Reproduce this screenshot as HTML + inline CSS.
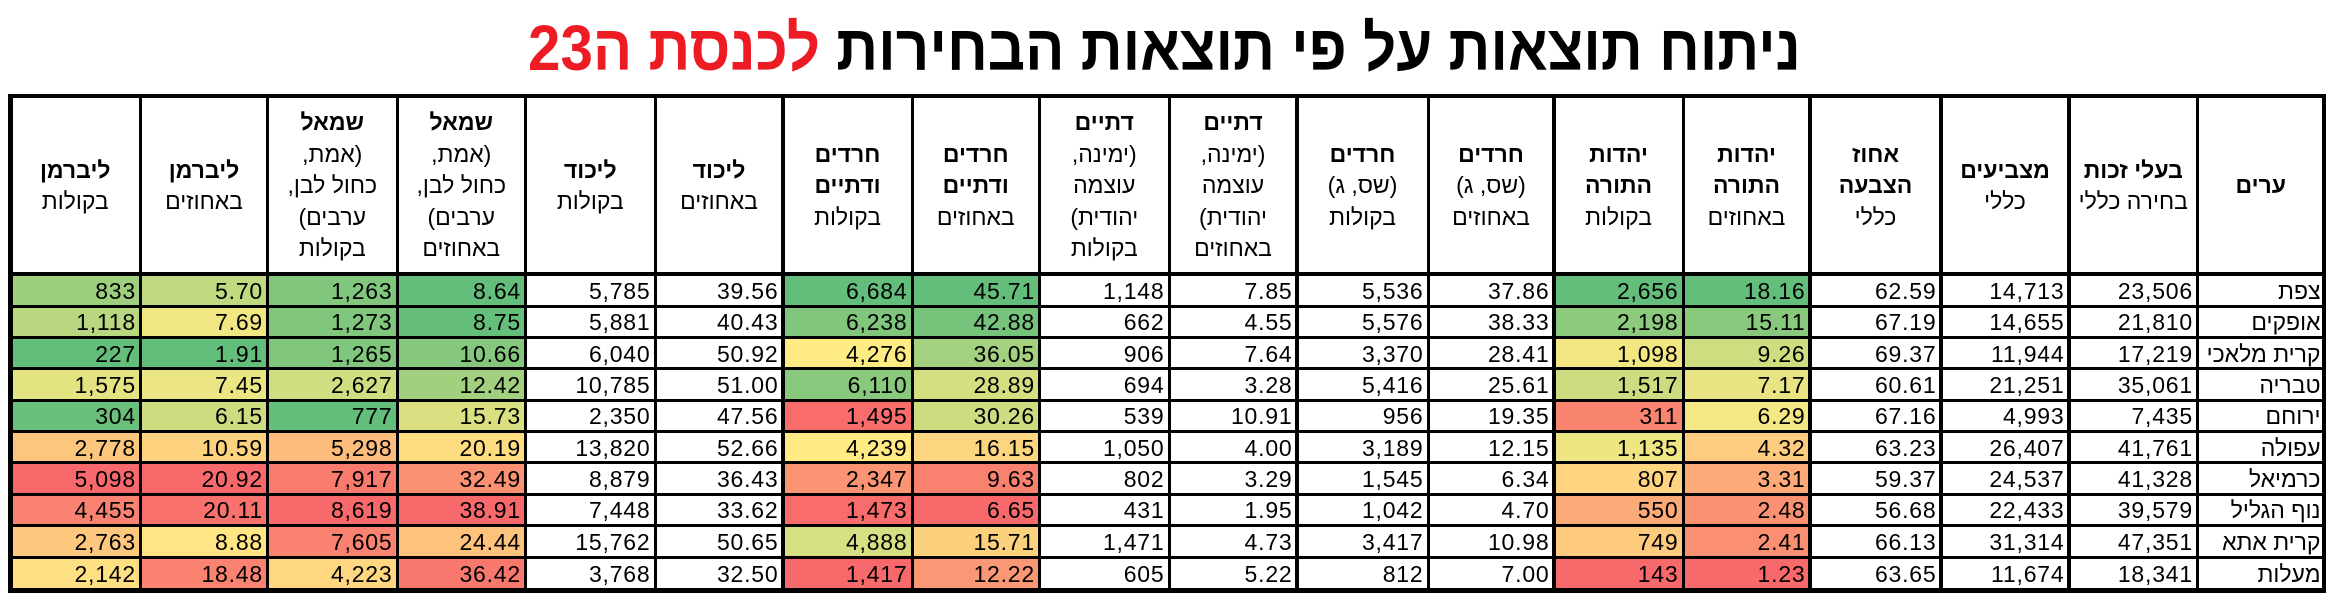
<!DOCTYPE html>
<html><head><meta charset="utf-8">
<style>
html,body{margin:0;padding:0;background:#fff;}
body{width:2334px;height:603px;position:relative;overflow:hidden;font-family:"Liberation Sans","Noto Sans CJK SC",sans-serif;color:#000;}
#title{position:absolute;right:533px;top:16px;font-size:64px;line-height:64px;font-weight:bold;white-space:nowrap;direction:rtl;transform-origin:100% 50%;transform:scaleX(0.92);}
.red{color:#ed1c24;}
#grid{position:absolute;left:10px;top:96px;display:grid;direction:ltr;
grid-template-columns:130.5px 127px 129.5px 128.5px 129.5px 128px 129px 127.5px 129.5px 128px 131px 126px 129px 127px 131px 128px 128.5px 126.5px;
grid-template-rows:178px 32px repeat(8,31.375px) 33px;}
.h{display:flex;align-items:center;justify-content:center;text-align:center;direction:rtl;font-size:23px;line-height:31.5px;padding-top:2px;box-sizing:border-box;white-space:nowrap;}
.h b{font-weight:bold;}
.d{display:flex;align-items:center;justify-content:flex-end;font-size:23px;letter-spacing:0.8px;padding:2px 4.5px 0 0;box-sizing:border-box;white-space:nowrap;}
.c{direction:rtl;letter-spacing:0;padding-right:3.5px;justify-content:flex-start;}
.v{position:absolute;top:94px;height:498.5px;background:#000;}
.hl{position:absolute;left:8px;width:2318px;background:#000;}
</style></head>
<body>
<div id="title">ניתוח תוצאות על פי תוצאות הבחירות <span class="red">לכנסת ה23</span></div>

<div id="grid">
<div class="h"><div><b>ליברמן</b><br>בקולות</div></div>
<div class="h"><div><b>ליברמן</b><br>באחוזים</div></div>
<div class="h"><div><b>שמאל</b><br>(אמת,<br>כחול לבן,<br>ערבים)<br>בקולות</div></div>
<div class="h"><div><b>שמאל</b><br>(אמת,<br>כחול לבן,<br>ערבים)<br>באחוזים</div></div>
<div class="h"><div><b>ליכוד</b><br>בקולות</div></div>
<div class="h"><div><b>ליכוד</b><br>באחוזים</div></div>
<div class="h"><div><b>חרדים<br>ודתיים</b><br>בקולות</div></div>
<div class="h"><div><b>חרדים<br>ודתיים</b><br>באחוזים</div></div>
<div class="h"><div><b>דתיים</b><br>(ימינה,<br>עוצמה<br>יהודית)<br>בקולות</div></div>
<div class="h"><div><b>דתיים</b><br>(ימינה,<br>עוצמה<br>יהודית)<br>באחוזים</div></div>
<div class="h"><div><b>חרדים</b><br>(שס, ג)<br>בקולות</div></div>
<div class="h"><div><b>חרדים</b><br>(שס, ג)<br>באחוזים</div></div>
<div class="h"><div><b>יהדות<br>התורה</b><br>בקולות</div></div>
<div class="h"><div><b>יהדות<br>התורה</b><br>באחוזים</div></div>
<div class="h"><div><b>אחוז<br>הצבעה</b><br>כללי</div></div>
<div class="h"><div><b>מצביעים</b><br>כללי</div></div>
<div class="h"><div><b>בעלי זכות</b><br>בחירה כללי</div></div>
<div class="h"><div><b>ערים</b></div></div>

<!-- צפת -->
<div class="d" style="background:#9DCF7E">833</div>
<div class="d" style="background:#C0D980">5.70</div>
<div class="d" style="background:#80C67D">1,263</div>
<div class="d" style="background:#63BE7B">8.64</div>
<div class="d">5,785</div>
<div class="d">39.56</div>
<div class="d" style="background:#63BE7B">6,684</div>
<div class="d" style="background:#63BE7B">45.71</div>
<div class="d">1,148</div>
<div class="d">7.85</div>
<div class="d">5,536</div>
<div class="d">37.86</div>
<div class="d" style="background:#63BE7B">2,656</div>
<div class="d" style="background:#63BE7B">18.16</div>
<div class="d">62.59</div>
<div class="d">14,713</div>
<div class="d">23,506</div>
<div class="d c">צפת</div>

<!-- אופקים -->
<div class="d" style="background:#B8D780">1,118</div>
<div class="d" style="background:#F0E783">7.69</div>
<div class="d" style="background:#80C67D">1,273</div>
<div class="d" style="background:#65BF7B">8.75</div>
<div class="d">5,881</div>
<div class="d">40.43</div>
<div class="d" style="background:#80C67D">6,238</div>
<div class="d" style="background:#76C47C">42.88</div>
<div class="d">662</div>
<div class="d">4.55</div>
<div class="d">5,576</div>
<div class="d">38.33</div>
<div class="d" style="background:#8DCA7D">2,198</div>
<div class="d" style="background:#88C97D">15.11</div>
<div class="d">67.19</div>
<div class="d">14,655</div>
<div class="d">21,810</div>
<div class="d c">אופקים</div>

<!-- קרית מלאכי -->
<div class="d" style="background:#63BE7B">227</div>
<div class="d" style="background:#63BE7B">1.91</div>
<div class="d" style="background:#80C67D">1,265</div>
<div class="d" style="background:#85C87D">10.66</div>
<div class="d">6,040</div>
<div class="d">50.92</div>
<div class="d" style="background:#FEEB84">4,276</div>
<div class="d" style="background:#A4D17F">36.05</div>
<div class="d">906</div>
<div class="d">7.64</div>
<div class="d">3,370</div>
<div class="d">28.41</div>
<div class="d" style="background:#F2E783">1,098</div>
<div class="d" style="background:#CFDD81">9.26</div>
<div class="d">69.37</div>
<div class="d">11,944</div>
<div class="d">17,219</div>
<div class="d c">קרית מלאכי</div>

<!-- טבריה -->
<div class="d" style="background:#E4E382">1,575</div>
<div class="d" style="background:#EBE583">7.45</div>
<div class="d" style="background:#D0DD81">2,627</div>
<div class="d" style="background:#A2D07F">12.42</div>
<div class="d">10,785</div>
<div class="d">51.00</div>
<div class="d" style="background:#88C97D">6,110</div>
<div class="d" style="background:#D4DF82">28.89</div>
<div class="d">694</div>
<div class="d">3.28</div>
<div class="d">5,416</div>
<div class="d">25.61</div>
<div class="d" style="background:#CBDC81">1,517</div>
<div class="d" style="background:#E8E483">7.17</div>
<div class="d">60.61</div>
<div class="d">21,251</div>
<div class="d">35,061</div>
<div class="d c">טבריה</div>

<!-- ירוחם -->
<div class="d" style="background:#6AC07B">304</div>
<div class="d" style="background:#CBDC81">6.15</div>
<div class="d" style="background:#63BE7B">777</div>
<div class="d" style="background:#DAE082">15.73</div>
<div class="d">2,350</div>
<div class="d">47.56</div>
<div class="d" style="background:#F86D6C">1,495</div>
<div class="d" style="background:#CBDC81">30.26</div>
<div class="d">539</div>
<div class="d">10.91</div>
<div class="d">956</div>
<div class="d">19.35</div>
<div class="d" style="background:#F98470">311</div>
<div class="d" style="background:#F3E883">6.29</div>
<div class="d">67.16</div>
<div class="d">4,993</div>
<div class="d">7,435</div>
<div class="d c">ירוחם</div>

<!-- עפולה -->
<div class="d" style="background:#FDC67D">2,778</div>
<div class="d" style="background:#FED37F">10.59</div>
<div class="d" style="background:#FCBC7B">5,298</div>
<div class="d" style="background:#FEDD81">20.19</div>
<div class="d">13,820</div>
<div class="d">52.66</div>
<div class="d" style="background:#FFEA84">4,239</div>
<div class="d" style="background:#FCD57F">16.15</div>
<div class="d">1,050</div>
<div class="d">4.00</div>
<div class="d">3,189</div>
<div class="d">12.15</div>
<div class="d" style="background:#EEE683">1,135</div>
<div class="d" style="background:#FDCC7E">4.32</div>
<div class="d">63.23</div>
<div class="d">26,407</div>
<div class="d">41,761</div>
<div class="d c">עפולה</div>

<!-- כרמיאל -->
<div class="d" style="background:#F8696B">5,098</div>
<div class="d" style="background:#F8696B">20.92</div>
<div class="d" style="background:#F97B6E">7,917</div>
<div class="d" style="background:#FA9173">32.49</div>
<div class="d">8,879</div>
<div class="d">36.43</div>
<div class="d" style="background:#FA9473">2,347</div>
<div class="d" style="background:#F98170">9.63</div>
<div class="d">802</div>
<div class="d">3.29</div>
<div class="d">1,545</div>
<div class="d">6.34</div>
<div class="d" style="background:#FED480">807</div>
<div class="d" style="background:#FCAB78">3.31</div>
<div class="d">59.37</div>
<div class="d">24,537</div>
<div class="d">41,328</div>
<div class="d c">כרמיאל</div>

<!-- נוף הגליל -->
<div class="d" style="background:#F98370">4,455</div>
<div class="d" style="background:#F8716D">20.11</div>
<div class="d" style="background:#F8696B">8,619</div>
<div class="d" style="background:#F8696B">38.91</div>
<div class="d">7,448</div>
<div class="d">33.62</div>
<div class="d" style="background:#F86C6B">1,473</div>
<div class="d" style="background:#F8696B">6.65</div>
<div class="d">431</div>
<div class="d">1.95</div>
<div class="d">1,042</div>
<div class="d">4.70</div>
<div class="d" style="background:#FCAA78">550</div>
<div class="d" style="background:#FA9173">2.48</div>
<div class="d">56.68</div>
<div class="d">22,433</div>
<div class="d">39,579</div>
<div class="d c">נוף הגליל</div>

<!-- קרית אתא -->
<div class="d" style="background:#FDC77D">2,763</div>
<div class="d" style="background:#FFE583">8.88</div>
<div class="d" style="background:#F98270">7,605</div>
<div class="d" style="background:#FDC37C">24.44</div>
<div class="d">15,762</div>
<div class="d">50.65</div>
<div class="d" style="background:#D6DF82">4,888</div>
<div class="d" style="background:#FCD17E">15.71</div>
<div class="d">1,471</div>
<div class="d">4.73</div>
<div class="d">3,417</div>
<div class="d">10.98</div>
<div class="d" style="background:#FDCA7E">749</div>
<div class="d" style="background:#FA8F72">2.41</div>
<div class="d">66.13</div>
<div class="d">31,314</div>
<div class="d">47,351</div>
<div class="d c">קרית אתא</div>

<!-- מעלות -->
<div class="d" style="background:#FEE082">2,142</div>
<div class="d" style="background:#F98270">18.48</div>
<div class="d" style="background:#FED780">4,223</div>
<div class="d" style="background:#F9786E">36.42</div>
<div class="d">3,768</div>
<div class="d">32.50</div>
<div class="d" style="background:#F8696B">1,417</div>
<div class="d" style="background:#FA9774">12.22</div>
<div class="d">605</div>
<div class="d">5.22</div>
<div class="d">812</div>
<div class="d">7.00</div>
<div class="d" style="background:#F8696B">143</div>
<div class="d" style="background:#F8696B">1.23</div>
<div class="d">63.65</div>
<div class="d">11,674</div>
<div class="d">18,341</div>
<div class="d c">מעלות</div>
</div>

<!-- vertical lines -->
<div class="v" style="left:8px;width:4.5px"></div>
<div class="v" style="left:139px;width:3px"></div>
<div class="v" style="left:265.75px;width:3.5px"></div>
<div class="v" style="left:395.5px;width:3px"></div>
<div class="v" style="left:523.75px;width:3.5px"></div>
<div class="v" style="left:653.5px;width:3px"></div>
<div class="v" style="left:781.25px;width:3.5px"></div>
<div class="v" style="left:910.5px;width:3px"></div>
<div class="v" style="left:1037.75px;width:3.5px"></div>
<div class="v" style="left:1167.5px;width:3px"></div>
<div class="v" style="left:1295.25px;width:3.5px"></div>
<div class="v" style="left:1426.5px;width:3px"></div>
<div class="v" style="left:1552.25px;width:3.5px"></div>
<div class="v" style="left:1681.5px;width:3px"></div>
<div class="v" style="left:1808.25px;width:3.5px"></div>
<div class="v" style="left:1939.25px;width:3.5px"></div>
<div class="v" style="left:2067.25px;width:3.5px"></div>
<div class="v" style="left:2195.75px;width:3.5px"></div>
<div class="v" style="left:2322px;width:4px"></div>

<!-- horizontal lines -->
<div class="hl" style="top:94px;height:4px"></div>
<div class="hl" style="top:272px;height:4px"></div>
<div class="hl" style="top:304.5px;height:3px"></div>
<div class="hl" style="top:335.9px;height:3px"></div>
<div class="hl" style="top:367.25px;height:3px"></div>
<div class="hl" style="top:398.6px;height:3px"></div>
<div class="hl" style="top:430px;height:3px"></div>
<div class="hl" style="top:461.4px;height:3px"></div>
<div class="hl" style="top:492.75px;height:3px"></div>
<div class="hl" style="top:524.1px;height:3px"></div>
<div class="hl" style="top:555.5px;height:3px"></div>
<div class="hl" style="top:587.5px;height:5px"></div>

<script>
(function(){
  var t=document.getElementById('title');
  var w=t.offsetWidth;
  if(w>0){t.style.transform='scaleX('+(1273/w).toFixed(4)+')';}
})();
</script>
</body></html>
